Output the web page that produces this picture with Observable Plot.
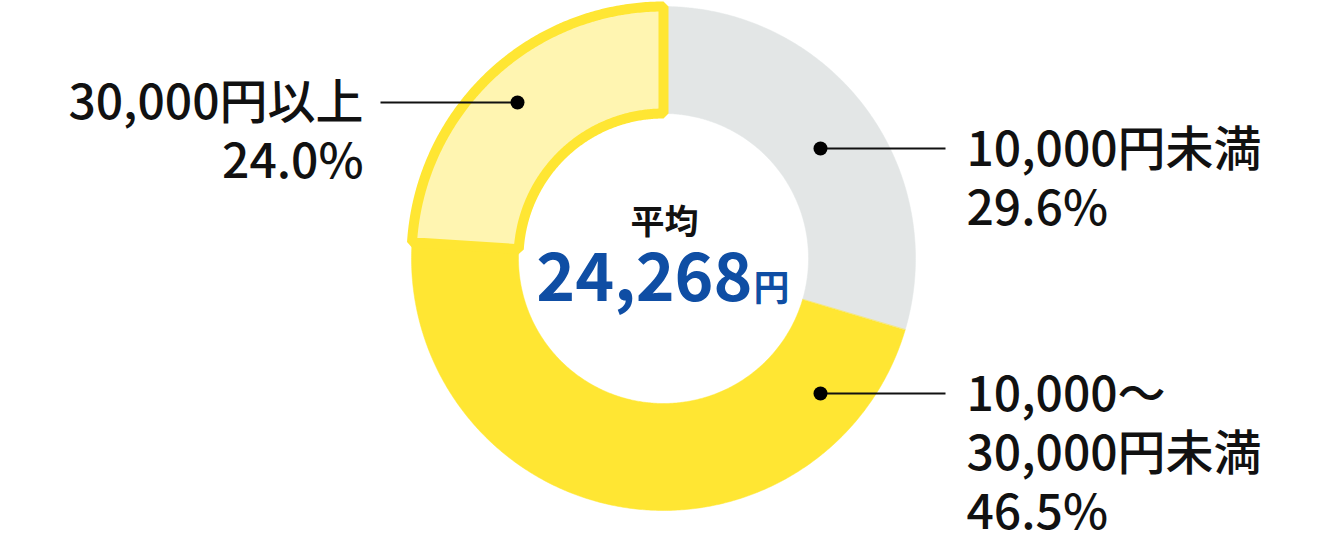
<!DOCTYPE html>
<html>
<head>
<meta charset="utf-8">
<script src="https://cdn.jsdelivr.net/npm/d3@7"></script>
<script src="https://cdn.jsdelivr.net/npm/@observablehq/plot@0.6"></script>
<style>
  html, body { margin: 0; padding: 0; background: #fff; }
  #chart svg { display: block; }
</style>
</head>
<body>
<div id="chart"></div>
<script>
// ---- data ----
const categories = ["10,000円未満", "10,000～\n30,000円未満", "30,000円以上"];
const shares = [29.6, 46.5, 24.0];
const shareLabels = ["29.6%", "46.5%", "24.0%"];
const sliceColors = ["#e3e6e6", "#ffe633", "#fff5b1"];
const highlighted = [false, false, true];
const averageTitle = "平均";
const averageValue = "24,268";
const averageUnit = "円";

// ---- layout ----
const W = 1326, H = 537;
const cx = 663, cy = 258, rOuter = 252, rInner = 145;
const FONT = "'Noto Sans CJK JP', 'Noto Sans', sans-serif";
const LABEL_SIZE = 48, LABEL_LH = 1.23;
// label anchor layout: dot position, leader end x, first baseline, anchor
const labelLayout = [
  {dot: [820, 148], lineEnd: 945, tx: 966, base: 165, anchor: "start"},
  {dot: [820, 393], lineEnd: 945, tx: 966, base: 410, anchor: "start"},
  {dot: [517, 102], lineEnd: 380, tx: 363, base: 118, anchor: "end"}
];

// ---- build slice polygons from shares ----
const total = d3.sum(shares);
let acc = 0;
const slices = categories.map((c, i) => {
  const a0 = acc / total * 2 * Math.PI;
  acc += shares[i];
  const a1 = acc / total * 2 * Math.PI;
  const n = Math.max(2, Math.ceil((a1 - a0) / (Math.PI / 360)));
  const pts = [];
  for (let k = 0; k <= n; k++) {
    const a = a0 + (a1 - a0) * k / n;
    pts.push({x: cx + rOuter * Math.sin(a), y: cy - rOuter * Math.cos(a), cat: c});
  }
  for (let k = n; k >= 0; k--) {
    const a = a0 + (a1 - a0) * k / n;
    pts.push({x: cx + rInner * Math.sin(a), y: cy - rInner * Math.cos(a), cat: c});
  }
  return {cat: c, i, pts};
});

const marks = [];
slices.filter(s => !highlighted[s.i]).forEach(s => {
  marks.push(Plot.line(s.pts, {x: "x", y: "y", curve: "linear-closed", fill: sliceColors[s.i], stroke: sliceColors[s.i], strokeWidth: 0.5}));
});
slices.filter(s => highlighted[s.i]).forEach(s => {
  marks.push(Plot.line(s.pts, {x: "x", y: "y", curve: "linear-closed", fill: sliceColors[s.i], stroke: "#ffe633", strokeWidth: 10, strokeLinejoin: "miter"}));
});

// leader lines & dots
const labelData = categories.map((c, i) => ({
  cat: c, share: shareLabels[i],
  x1: labelLayout[i].dot[0], y1: labelLayout[i].dot[1],
  x2: labelLayout[i].lineEnd, y2: labelLayout[i].dot[1],
  tx: labelLayout[i].tx,
  ty: labelLayout[i].base - 0.71 * LABEL_LH * LABEL_SIZE,
  anchor: labelLayout[i].anchor,
  text: c + "\n" + shareLabels[i]
}));
marks.push(Plot.link(labelData, {x1: "x1", y1: "y1", x2: "x2", y2: "y2", stroke: "#111", strokeWidth: 2}));
marks.push(Plot.dot(labelData, {x: "x1", y: "y1", r: 7, fill: "#000", stroke: "none"}));
for (const anchor of ["start", "end"]) {
  marks.push(Plot.text(labelData.filter(d => d.anchor === anchor), {
    x: "tx", y: "ty", text: "text", textAnchor: anchor, lineAnchor: "top",
    fontSize: LABEL_SIZE, lineHeight: LABEL_LH, fill: "#111", fontFamily: FONT, fontWeight: 500
  }));
}

// center text
marks.push(Plot.text([averageTitle], {x: () => 664, y: () => 233, text: d => d, textAnchor: "middle", lineAnchor: "bottom", fontSize: 34, fontWeight: 700, fill: "#111", fontFamily: FONT}));
marks.push(Plot.text([averageValue], {x: () => 752, y: () => 300, text: d => d, textAnchor: "end", lineAnchor: "bottom", fontSize: 66, fontWeight: 700, fill: "#0f4ea4", fontFamily: FONT}));
marks.push(Plot.text([averageUnit], {x: () => 753, y: () => 300, text: d => d, textAnchor: "start", lineAnchor: "bottom", fontSize: 36, fontWeight: 700, fill: "#0f4ea4", fontFamily: FONT}));

const chart = Plot.plot({
  width: W, height: H,
  margin: 0,
  x: {domain: [0, W], axis: null},
  y: {domain: [0, H], axis: null, reverse: true},
  style: {background: "#fff", overflow: "visible"},
  marks
});
document.getElementById("chart").appendChild(chart);
</script>
</body>
</html>
